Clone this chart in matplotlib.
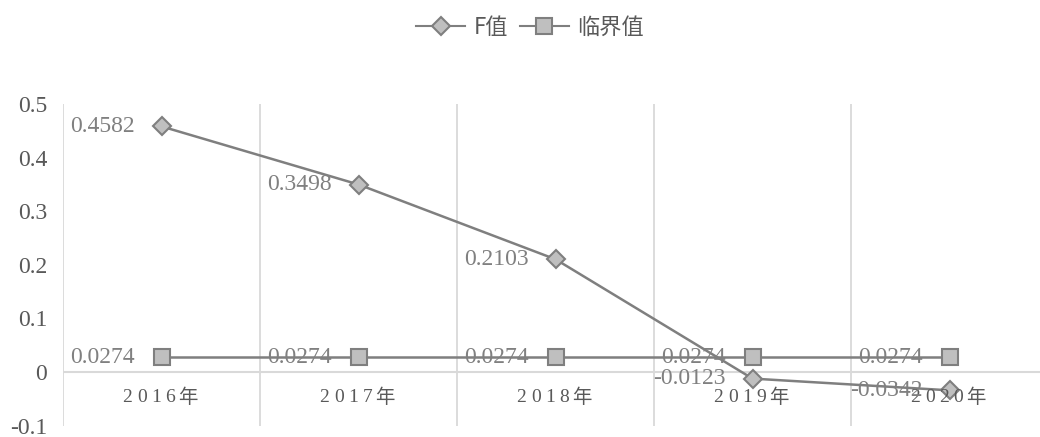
import matplotlib
matplotlib.use("Agg")
import matplotlib.pyplot as plt
from matplotlib.lines import Line2D

plt.rcParams['axes.unicode_minus'] = False

# chart data
years = ["2016年", "2017年", "2018年", "2019年", "2020年"]
f_values = [0.4582, 0.3498, 0.2103, -0.0123, -0.0342]
crit_values = [0.0274, 0.0274, 0.0274, 0.0274, 0.0274]
y_ticks = [-0.1, 0, 0.1, 0.2, 0.3, 0.4, 0.5]
y_tick_labels = ["-0.1", "0", "0.1", "0.2", "0.3", "0.4", "0.5"]

serif = ['Liberation Serif', 'Noto Sans CJK SC']
cjk = ['Noto Sans CJK SC', 'DejaVu Sans']
line_c = '#7f7f7f'
fill_c = '#bfbfbf'
grid_c = '#d9d9d9'
tick_c = '#595959'
label_c = '#808080'

fig = plt.figure(figsize=(10.4, 4.37), dpi=100)
ax = fig.add_axes([63 / 1040, 11.4 / 437, 977 / 1040, 321.6 / 437])

x = list(range(len(years)))
ax.set_xlim(-0.5, -0.5 + 977 / 197)
ax.set_ylim(-0.1, 0.5)

# Excel-style gridlines: vertical at category boundaries, horizontal at zero
for b in [i - 0.5 for i in range(len(years) + 1)]:
    ax.axvline(b, color=grid_c, lw=1.3, zorder=0)
ax.axhline(0, color=grid_c, lw=1.5, zorder=0)

ax.plot(x, f_values, color=line_c, lw=1.8, marker='D', ms=9,
        mfc=fill_c, mec=line_c, mew=1.5, zorder=3)
ax.plot(x, crit_values, color=line_c, lw=1.8, marker='s', ms=12,
        mfc=fill_c, mec=line_c, mew=1.5, zorder=3)

# data labels to the left of each point
for xi, v in zip(x, f_values):
    ax.annotate(f"{v:.4f}", (xi, v), xytext=(-19.5, 0), textcoords='offset points',
                ha='right', va='center', fontsize=17, color=label_c, family=serif, zorder=4)
for xi, v in zip(x, crit_values):
    ax.annotate(f"{v:.4f}", (xi, v), xytext=(-19.5, 0), textcoords='offset points',
                ha='right', va='center', fontsize=17, color=label_c, family=serif, zorder=4)

# category labels sit just below the zero line, letter-spaced char by char (px offsets)
char_dx = [-34.5, -19.5, -5.3, 8.8, 26.3]
for xi, name in zip(x, years):
    for ch, dx in zip(name, char_dx):
        ax.annotate(ch, (xi, 0), xytext=(dx * 0.72, -26 * 0.72), textcoords='offset points',
                    ha='center', va='center', fontsize=14, color=tick_c, family=serif)

ax.set_xticks([])
ax.set_yticks(y_ticks)
ax.set_yticklabels(y_tick_labels, fontsize=17, color=tick_c, family=serif)
ax.tick_params(axis='y', length=0, pad=11.5)
for s in ax.spines.values():
    s.set_visible(False)

handles = [
    Line2D([], [], color=line_c, lw=1.5, marker='D', ms=9, mfc=fill_c, mec=line_c, mew=1.5),
    Line2D([], [], color=line_c, lw=1.5, marker='s', ms=11, mfc=fill_c, mec=line_c, mew=1.5),
]
leg = fig.legend(handles, ["F值", "临界值"], loc='upper center', bbox_to_anchor=(0.51, 1.01),
                 ncol=2, frameon=False, handlelength=2.2, handletextpad=0.4,
                 columnspacing=0.5, prop={'family': cjk, 'size': 16})
for t in leg.get_texts():
    t.set_color(tick_c)

fig.savefig("out.png", dpi=100, facecolor='white')
